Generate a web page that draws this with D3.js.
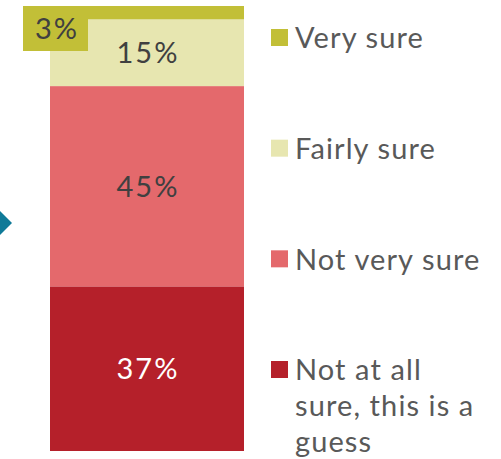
<!DOCTYPE html>
<html>
<head>
<meta charset="utf-8">
<script src="https://cdn.jsdelivr.net/npm/d3@7/dist/d3.min.js"></script>
<style>
  html, body { margin: 0; padding: 0; background: #fff; }
  svg { display: block; }
  text { font-family: Lato, "Open Sans", sans-serif; }
</style>
</head>
<body>
<svg id="chart" width="501" height="459"></svg>
<script>
// Confidence levels, stacked bottom to top
const categories = ["Not at all sure, this is a guess", "Not very sure", "Fairly sure", "Very sure"];
const values = [37, 45, 15, 3];
const colors = ["#b5202a", "#e4696c", "#e7e6b0", "#c2bf37"];
const labelColors = ["#ffffff", "#404040", "#404040", "#404040"];
// Legend lines, top to bottom
const legendLines = [["Very sure"], ["Fairly sure"], ["Not very sure"], ["Not at all", "sure, this is a", "guess"]];
const legendColors = ["#c2bf37", "#e7e6b0", "#e4696c", "#b5202a"];

const svg = d3.select("#chart");

const y = d3.scaleLinear().domain([0, 100]).range([451, 6]);
const x = d3.scaleBand().domain(["all"]).range([50, 244]).padding(0);

// cumulative stack
let acc = 0;
const stacked = values.map((v, i) => {
  const d = { cat: categories[i], v, y0: acc, y1: acc + v, color: colors[i], lc: labelColors[i] };
  acc += v;
  return d;
});

// small pointer on the left edge
svg.append("path")
  .attr("d", "M0,211 L12,223 L0,235 Z")
  .attr("fill", "#0f7a98");

svg.selectAll("rect.seg")
  .data(stacked)
  .join("rect")
  .attr("class", "seg")
  .attr("x", x("all"))
  .attr("width", x.bandwidth())
  .attr("y", d => y(d.y1))
  .attr("height", d => y(d.y0) - y(d.y1))
  .attr("fill", d => d.color);

// value labels for the larger segments
svg.selectAll("text.val")
  .data(stacked.filter(d => d.v >= 10))
  .join("text")
  .attr("class", "val")
  .attr("x", x("all") + x.bandwidth() / 2 + 1)
  .attr("y", d => (y(d.y0) + y(d.y1)) / 2)
  .attr("dy", "0.36em")
  .attr("text-anchor", "middle")
  .attr("font-size", 29)
  .attr("letter-spacing", 2)
  .attr("fill", d => d.lc)
  .text(d => d.v + "%");

// callout box for the thin top segment
const topSeg = stacked[stacked.length - 1];
svg.append("rect")
  .attr("x", 23).attr("y", y(topSeg.y1))
  .attr("width", 65).attr("height", 45)
  .attr("fill", topSeg.color);
svg.append("text")
  .attr("x", 57).attr("y", 29)
  .attr("dy", "0.36em")
  .attr("text-anchor", "middle")
  .attr("font-size", 29)
  .attr("letter-spacing", 2)
  .attr("fill", "#404040")
  .text(topSeg.v + "%");

// legend
const legendY = d3.scalePoint().domain(d3.range(legendLines.length)).range([38, 370]);
const lg = svg.selectAll("g.legend")
  .data(legendLines)
  .join("g")
  .attr("class", "legend")
  .attr("transform", (d, i) => `translate(271,${legendY(i)})`);
lg.append("rect")
  .attr("x", 0).attr("y", -9)
  .attr("width", 17).attr("height", 17)
  .attr("fill", (d, i) => legendColors[i]);
lg.each(function(lines) {
  const t = d3.select(this).append("text")
    .attr("x", 24).attr("y", 0)
    .attr("font-size", 29)
    .attr("letter-spacing", 1.1)
    .attr("fill", "#595959");
  lines.forEach((s, j) => {
    t.append("tspan").attr("x", 24).attr("y", j * 36).attr("dy", "0.36em").text(s);
  });
});
</script>
</body>
</html>
